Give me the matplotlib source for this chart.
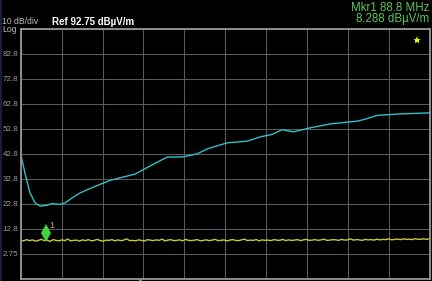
import numpy as np
import matplotlib
matplotlib.use("Agg")
import matplotlib.pyplot as plt
from matplotlib.transforms import offset_copy

plt.rcParams['font.family'] = ['Liberation Sans', 'DejaVu Sans']

ref_level = 92.75
db_div = 10
f_start = 30
f_stop = 1000

# traza cian (MHz, dBuV/m)
cyan_freq = [30, 40, 52, 64, 76, 92, 104, 123, 135, 152, 171, 195, 218, 242,
             265, 301, 337, 377, 415, 448, 474, 519, 567, 598, 626, 650, 676,
             716, 764, 828, 847, 875, 930, 1000]
cyan_level = [42.5, 35.0, 27.0, 23.0, 21.7, 22.0, 22.7, 22.4, 23.0, 25.0, 27.0,
              28.8, 30.4, 32.0, 33.0, 34.5, 37.8, 41.3, 41.4, 42.6, 44.7, 47.0,
              47.7, 49.4, 50.4, 52.3, 51.4, 53.0, 54.6, 55.7, 56.5, 58.0, 58.6,
              59.0]

# traza amarilla (ruido de fondo)
yellow_level = [8.1, 7.8, 8.3, 7.9, 8.2, 7.7, 8.0, 8.4, 7.9, 8.1, 7.6, 8.3, 8.0,
                7.8, 8.2, 7.9, 8.5, 7.8, 8.0, 8.1, 7.7, 8.2, 7.9, 8.3, 7.8, 8.0,
                8.4, 7.9, 7.7, 8.1, 8.0, 8.3, 7.8, 8.2, 7.9, 8.1, 8.6, 7.9, 8.0,
                7.8, 8.2, 8.0, 7.7, 8.3, 8.1, 7.9, 8.2, 8.0, 8.5, 7.8, 8.1, 8.3,
                7.9, 8.0, 8.2, 7.8, 8.4, 8.0, 7.9, 8.1, 8.3, 7.8, 8.0, 8.2, 7.9,
                8.1, 8.4, 7.9, 8.0, 8.2, 7.8, 8.1, 8.3, 8.0, 7.9, 8.2, 8.5, 7.9,
                8.1, 8.0, 8.3, 7.8, 8.2, 8.0, 8.1, 7.9, 8.3, 8.1, 8.0, 8.4, 7.9,
                8.2, 8.0, 8.1, 8.3, 7.9, 8.2, 8.4, 8.0, 8.1, 8.3, 8.0, 8.2, 8.5,
                8.0, 8.1, 8.3, 8.2, 8.0, 8.4, 8.1, 8.2, 8.6, 8.1, 8.3, 8.2, 8.0,
                8.4, 8.2, 8.3, 8.1, 8.5, 8.2, 8.4, 8.3, 8.6, 8.2, 8.4, 8.5, 8.3,
                8.6, 8.4, 8.5, 8.3, 8.7, 8.4, 8.5, 8.6, 8.4, 8.7]
yellow_freq = np.linspace(f_start, f_stop, len(yellow_level))

# marcador 1
mkr_freq = 88.8
mkr_level = 8.288

y_ticks = [ref_level - db_div * k for k in range(11)]
y_labels = ["", "82.8", "72.8", "62.8", "52.8", "42.8", "32.8", "22.8", "12.8",
            "2.75", ""]

# Figura
fig = plt.figure(figsize=(4.32, 2.81), dpi=100, facecolor="black")
ax = fig.add_axes([20.7 / 432, 2.5 / 281, 409.3 / 432, 250 / 281])
ax.set_facecolor("black")

ax.plot(cyan_freq, cyan_level, color="#2fc0c8", lw=1.0)
ax.plot(yellow_freq, yellow_level, color="#c8c838", lw=1.0)

# rombo del marcador, un poco por encima de la traza
tr = offset_copy(ax.transData, fig=fig, x=0, y=7, units="dots")
ax.plot([mkr_freq], [mkr_level], marker="D", ms=4.5, color="#40d040",
        transform=tr, markeredgewidth=0)
ax.plot([mkr_freq], [mkr_level], marker="d", ms=9, color="#40d040",
        transform=tr, markeredgewidth=0)
tr2 = offset_copy(ax.transData, fig=fig, x=6, y=14, units="dots")
ax.text(mkr_freq, mkr_level, "1", color="#c0b040", fontsize=6.5,
        transform=tr2, va="center", ha="center")

ax.set_xlim(f_start, f_stop)
ax.set_ylim(ref_level - 10 * db_div, ref_level)
ax.set_xticks(np.linspace(f_start, f_stop, 11))
ax.set_yticks(y_ticks)
ax.set_yticklabels(y_labels)
ax.set_xticklabels([])
ax.tick_params(length=0, labelsize=5.8, labelcolor="#9a9a9a", pad=1.5)
ax.grid(True, color="#5a5a5a", lw=0.75)
for s in ax.spines.values():
    s.set_color("#969696")
    s.set_linewidth(1.3)

# estrella amarilla y marca verde inferior
ax.plot([0.9675], [0.956], marker="*", ms=6, color="#f0f000",
        transform=ax.transAxes, markeredgewidth=0)
ax.plot([0.291], [-0.004], marker="o", ms=2, color="#40d040",
        transform=ax.transAxes, clip_on=False, markeredgewidth=0)

# textos de cabecera
fig.text(2.5 / 432, 1 - 31.5 / 281, "10 dB/div\nLog", color="#b8b8b8",
         fontsize=6.2, va="baseline", ha="left", linespacing=0.85)
fig.text(52 / 432, 1 - 24.8 / 281, "Ref 92.75 dBµV/m", color="white",
         fontsize=7, fontweight="bold", va="baseline", ha="left")
fig.text(429 / 432, 1 - 10.7 / 281, "Mkr1 88.8 MHz", color="#58c858",
         fontsize=8.3, va="baseline", ha="right")
fig.text(429 / 432, 1 - 22.2 / 281, "8.288 dBµV/m", color="#58c858",
         fontsize=8.3, va="baseline", ha="right")

# borde azul a la izquierda
fig.add_artist(plt.Line2D([0.002, 0.002], [0, 1], color="#14203c", lw=1.5))

fig.savefig("out.png", dpi=100, facecolor="black")
